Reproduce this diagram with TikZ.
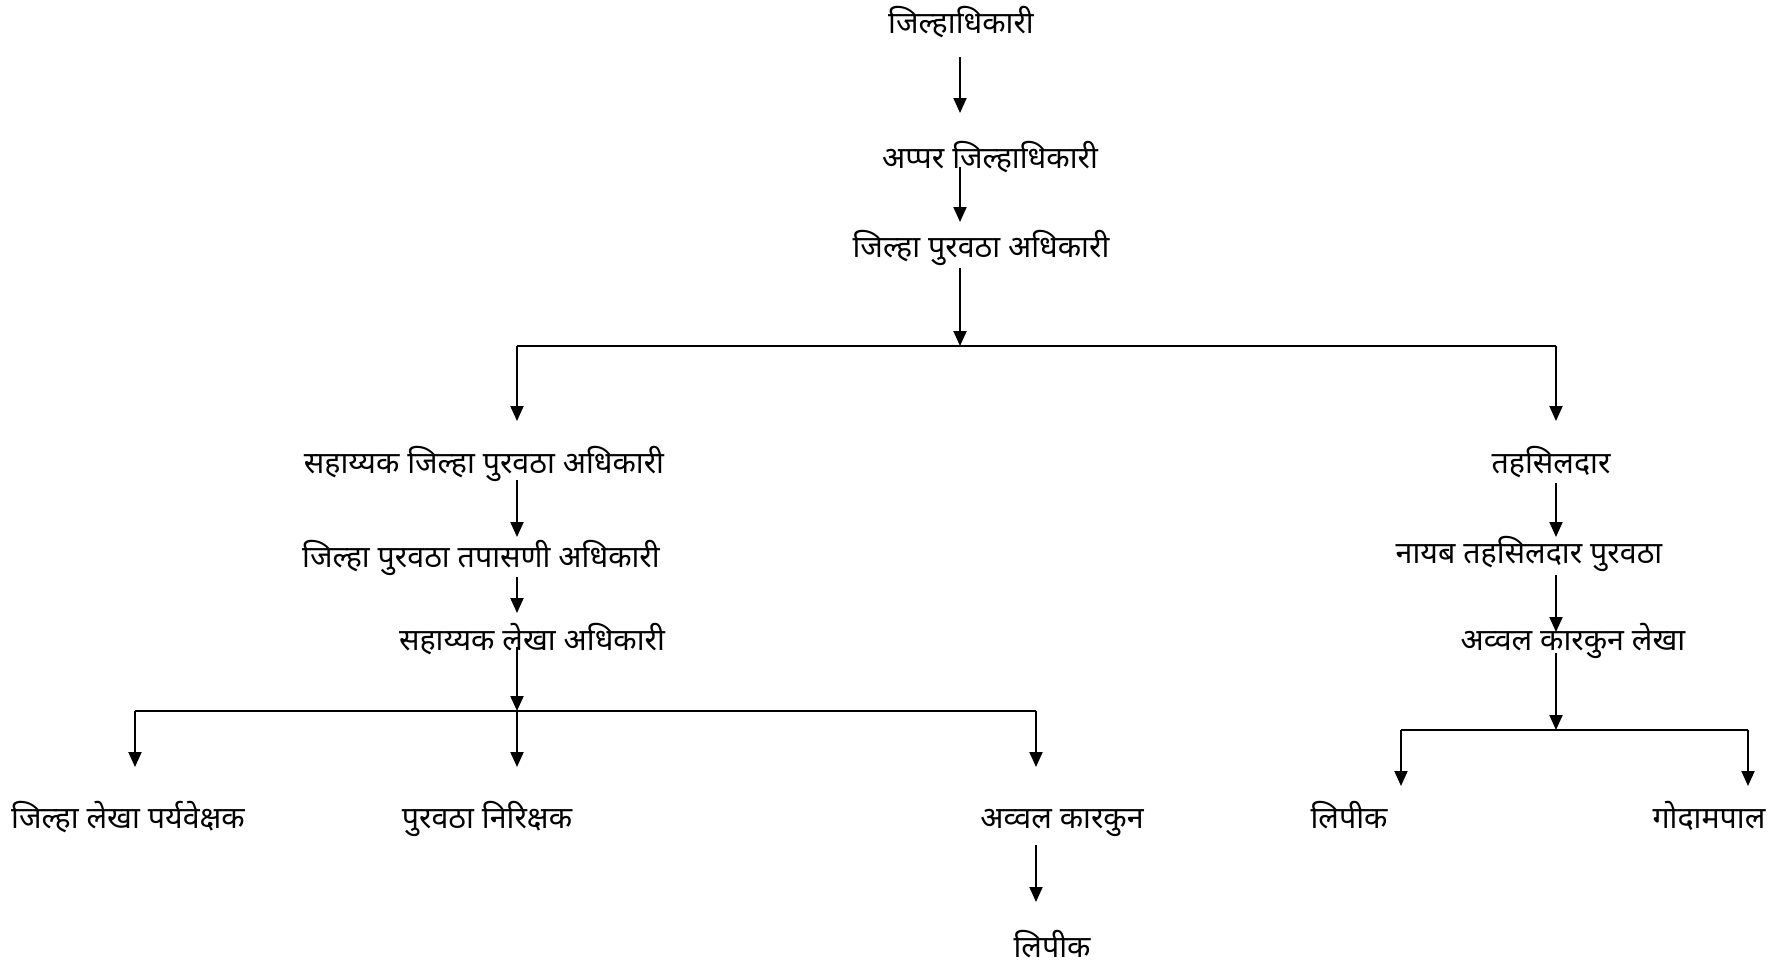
\documentclass[tikz,border=0pt]{standalone}
\usepackage{fontspec}
\newfontfamily\deva[Script=Devanagari]{Noto Sans}
\usetikzlibrary{arrows.meta}
\begin{document}
\begin{tikzpicture}[x=0.5pt,y=-0.5pt,
  lbl/.style={font=\deva\fontsize{15.2}{18}\selectfont, inner sep=0pt, anchor=base},
  arr/.style={line width=1pt,-{Triangle[width=6.5pt,length=7.5pt]}},
  ln/.style={line width=1pt}]
\useasboundingbox (0,0) rectangle (1774,969);
% labels
\node[lbl] (t1) at (961,33) {जिल्हाधिकारी};
\node[lbl] (t2) at (990,168) {अप्पर जिल्हाधिकारी};
\node[lbl] (t3) at (981,257) {जिल्हा पुरवठा अधिकारी};
\node[lbl] (l1) at (484,473) {सहाय्यक जिल्हा पुरवठा अधिकारी};
\node[lbl] (l2) at (481,567) {जिल्हा पुरवठा तपासणी अधिकारी};
\node[lbl] (l3) at (532,650) {सहाय्यक लेखा अधिकारी};
\node[lbl] (b1) at (128,828) {जिल्हा लेखा पर्यवेक्षक};
\node[lbl] (b2) at (487,828) {पुरवठा निरिक्षक};
\node[lbl] (b3) at (1062,828) {अव्वल कारकुन};
\node[lbl] (b4) at (1052,957) {लिपीक};
\node[lbl] (r1) at (1551,473) {तहसिलदार};
\node[lbl] (r2) at (1529,563) {नायब तहसिलदार पुरवठा};
\node[lbl] (r3) at (1573,650) {अव्वल कारकुन लेखा};
\node[lbl] (r4) at (1349,828) {लिपीक};
\node[lbl] (r5) at (1709,828) {गोदामपाल};
% connector end points
\coordinate (a1s) at (960,57);   \coordinate (a1e) at (960,113);
\coordinate (a2s) at (960,167);  \coordinate (a2e) at (960,222);
\coordinate (a3s) at (960,268);  \coordinate (j1) at (960,346);
\coordinate (j1l) at (517,346);  \coordinate (j1r) at (1556,346);
\coordinate (l1n) at (517,421);  \coordinate (r1n) at (1556,421);
\coordinate (a6s) at (517,480);  \coordinate (a6e) at (517,537);
\coordinate (a7s) at (517,577);  \coordinate (a7e) at (517,613);
\coordinate (a8s) at (517,647);  \coordinate (j2) at (517,711);
\coordinate (j2l) at (135,711);  \coordinate (j2r) at (1036,711);
\coordinate (b1n) at (135,767);  \coordinate (b2n) at (517,767);  \coordinate (b3n) at (1036,767);
\coordinate (a12s) at (1036,845); \coordinate (a12e) at (1036,902);
\coordinate (a13s) at (1556,483); \coordinate (a13e) at (1556,537);
\coordinate (a14s) at (1556,575); \coordinate (a14e) at (1556,632);
\coordinate (a15s) at (1556,653); \coordinate (j3) at (1556,730);
\coordinate (j3l) at (1401,730);  \coordinate (j3r) at (1748,730);
\coordinate (r4n) at (1401,786);  \coordinate (r5n) at (1748,786);
% connectors
\draw[arr] (a1s) -- (a1e);
\draw[arr] (a2s) -- (a2e);
\draw[arr] (a3s) -- (j1);
\draw[ln] (j1l) -- (j1r);
\draw[arr] (j1l) -- (l1n);
\draw[arr] (j1r) -- (r1n);
\draw[arr] (a6s) -- (a6e);
\draw[arr] (a7s) -- (a7e);
\draw[arr] (a8s) -- (j2);
\draw[ln] (j2l) -- (j2r);
\draw[arr] (j2l) -- (b1n);
\draw[arr] (j2) -- (b2n);
\draw[arr] (j2r) -- (b3n);
\draw[arr] (a12s) -- (a12e);
\draw[arr] (a13s) -- (a13e);
\draw[arr] (a14s) -- (a14e);
\draw[arr] (a15s) -- (j3);
\draw[ln] (j3l) -- (j3r);
\draw[arr] (j3l) -- (r4n);
\draw[arr] (j3r) -- (r5n);
\end{tikzpicture}
\end{document}
